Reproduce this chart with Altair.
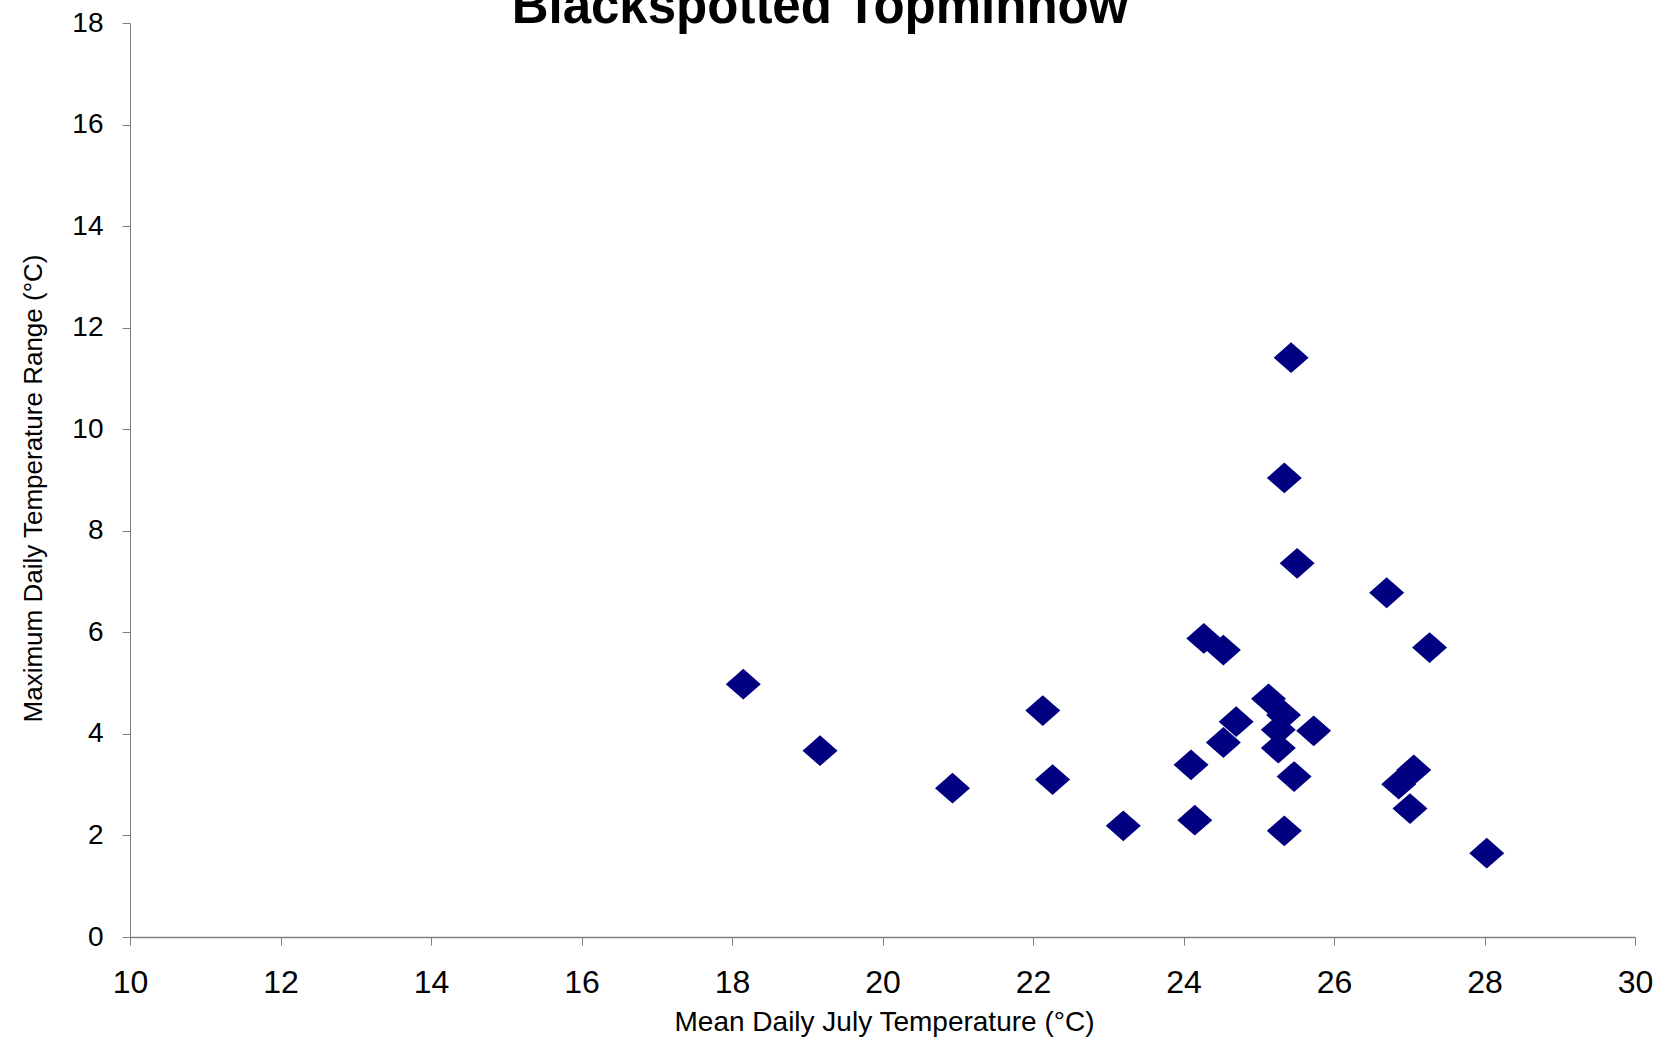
import altair as alt
import pandas as pd

# Mean daily July temperature (°C) and maximum daily temperature range (°C) per site
mean_july_temp = [18.15, 19.17, 20.93, 22.13, 22.26, 23.20, 24.10, 24.15, 24.27, 24.53,
                  24.53, 24.70, 25.13, 25.33, 25.26, 25.26, 25.73, 25.47, 25.34, 25.43,
                  25.34, 25.51, 26.70, 27.27, 26.86, 27.06, 27.01, 28.03]
max_daily_range = [4.98, 3.67, 2.93, 4.46, 3.10, 2.19, 3.39, 2.30, 5.88, 5.65,
                   3.83, 4.24, 4.69, 4.37, 4.08, 3.72, 4.06, 3.16, 2.09, 11.41,
                   9.04, 7.36, 6.78, 5.70, 3.01, 3.29, 2.53, 1.65]

title_text = ["Blackspotted Topminnow"]
x_title = "Mean Daily July Temperature (°C)"
y_title = "Maximum Daily Temperature Range (°C)"

df = pd.DataFrame({"temp": mean_july_temp, "range": max_daily_range})
title_df = pd.DataFrame({"t": title_text})

FONT = "Liberation Sans"
GREY = "#808080"

points = alt.Chart(df).mark_point(
    shape="M-1,0L0,-0.88L1,0L0,0.88Z",
    filled=True,
    color="#000080",
    opacity=1,
    size=1225,
).encode(
    x=alt.X(
        "temp:Q",
        scale=alt.Scale(domain=[10, 30], nice=False, zero=False),
        axis=alt.Axis(
            title=x_title,
            values=list(range(10, 31, 2)),
            grid=False,
            domainColor=GREY,
            domainWidth=1.5,
            tickColor=GREY,
            tickWidth=1,
            tickSize=8,
            labelFont=FONT,
            labelFontSize=32,
            labelColor="black",
            labelPadding=22,
            labelFlush=False,
            titleFont=FONT,
            titleFontSize=28,
            titleFontWeight="normal",
            titleColor="black",
            titleBaseline="alphabetic",
            titleY=93,
            titleX=754,
        ),
    ),
    y=alt.Y(
        "range:Q",
        scale=alt.Scale(domain=[0, 18], nice=False),
        axis=alt.Axis(
            title=y_title,
            values=list(range(0, 19, 2)),
            grid=False,
            domainColor=GREY,
            domainWidth=1,
            tickColor=GREY,
            tickWidth=1,
            tickSize=8,
            labelFont=FONT,
            labelFontSize=28,
            labelColor="black",
            labelPadding=19,
            labelFlush=False,
            titleFont=FONT,
            titleFontSize=26,
            titleFontWeight="normal",
            titleColor="black",
            titleAngle=-90,
            titleBaseline="alphabetic",
            titleX=-89,
            titleY=465,
        ),
    ),
)

title = alt.Chart(title_df).mark_text(
    font=FONT,
    fontSize=51,
    fontWeight="bold",
    color="black",
    align="center",
    baseline="alphabetic",
).encode(
    text="t:N",
    x=alt.value(690),
    y=alt.value(0),
)

chart = alt.layer(points, title).properties(
    width=1505,
    height=914,
    autosize=alt.AutoSizeParams(type="none"),
    padding={"left": 130, "top": 23, "right": 36, "bottom": 103},
    background="white",
).configure_view(stroke=None)

chart.save("out.html", embed_options={"renderer": "svg", "actions": False})
